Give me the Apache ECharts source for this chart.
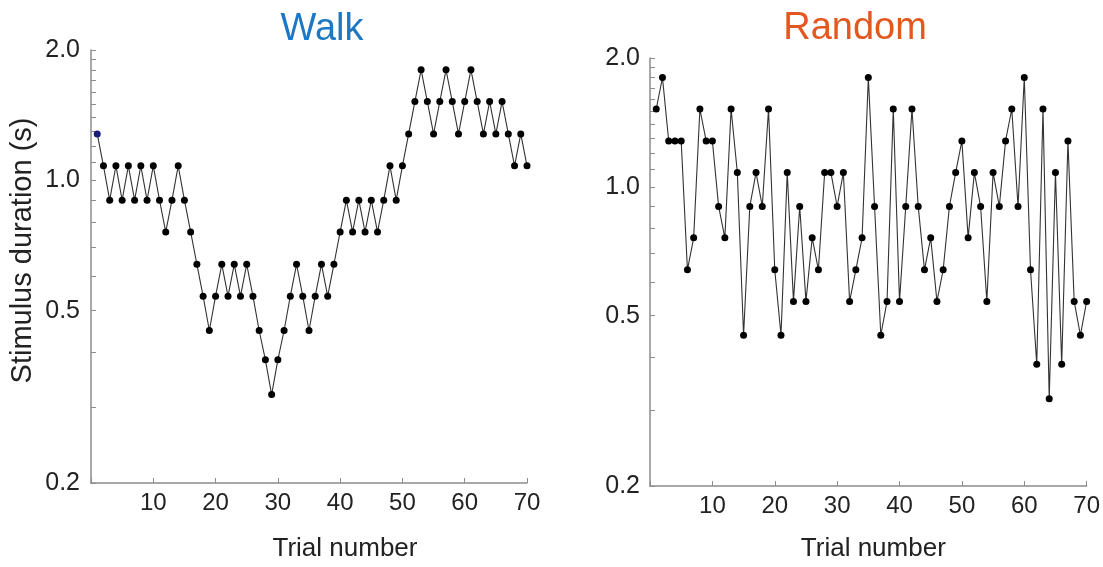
<!DOCTYPE html>
<html>
<head>
<meta charset="utf-8">
<script src="https://cdn.jsdelivr.net/npm/echarts@6/dist/echarts.min.js"></script>
<style>
html, body { margin: 0; background: #fff; }
#main { width: 1103px; height: 567px; }
</style>
</head>
<body>
<div id="main"></div>
<script>
// stimulus duration (s) per trial, trials 1..70
var walkDur = [1.28, 1.08, 0.90, 1.08, 0.90, 1.08, 0.90, 1.08, 0.90, 1.08,
    0.90, 0.76, 0.90, 1.08, 0.90, 0.76, 0.64, 0.54, 0.45, 0.54,
    0.64, 0.54, 0.64, 0.54, 0.64, 0.54, 0.45, 0.385, 0.32, 0.385,
    0.45, 0.54, 0.64, 0.54, 0.45, 0.54, 0.64, 0.54, 0.64, 0.76,
    0.90, 0.76, 0.90, 0.76, 0.90, 0.76, 0.90, 1.08, 0.90, 1.08,
    1.28, 1.52, 1.80, 1.52, 1.28, 1.52, 1.80, 1.52, 1.28, 1.52,
    1.80, 1.52, 1.28, 1.52, 1.28, 1.52, 1.28, 1.08, 1.28, 1.08];
var randomDur = [1.52, 1.80, 1.28, 1.28, 1.28, 0.64, 0.76, 1.52, 1.28, 1.28,
    0.90, 0.76, 1.52, 1.08, 0.45, 0.90, 1.08, 0.90, 1.52, 0.64,
    0.45, 1.08, 0.54, 0.90, 0.54, 0.76, 0.64, 1.08, 1.08, 0.90,
    1.08, 0.54, 0.64, 0.76, 1.80, 0.90, 0.45, 0.54, 1.52, 0.54,
    0.90, 1.52, 0.90, 0.64, 0.76, 0.54, 0.64, 0.90, 1.08, 1.28,
    0.76, 1.08, 0.90, 0.54, 1.08, 0.90, 1.28, 1.52, 0.90, 1.80,
    0.64, 0.385, 1.52, 0.32, 1.08, 0.385, 1.28, 0.54, 0.45, 0.54];
var yLabelVals = [0.2, 0.5, 1.0, 2.0];
var yTickVals = [0.2, 0.3, 0.4, 0.5, 0.6, 0.7, 0.8, 0.9, 1.0, 1.1, 1.2, 1.3, 1.4, 1.5, 1.6, 1.7, 1.8, 1.9, 2.0];
var titles = ['Walk', 'Random'];
var titleColors = ['#1c78c4', '#e2581f'];

var font = 'Liberation Sans, Arial, sans-serif';
var axisGrey = '#8c8c8c';

function toPoints(arr) {
    return arr.map(function (v, i) { return [i + 1, v]; });
}
var walkData = toPoints(walkDur);
walkData[0] = { value: walkData[0], itemStyle: { color: '#1a1a7a' } };

function xAxisFor(gi, gap, pad) {
    return {
        type: 'value', gridIndex: gi, min: 0, max: 70, interval: 10,
        name: 'Trial number', nameLocation: 'middle', nameGap: gap,
        nameTextStyle: { fontSize: 26, color: '#222', fontFamily: font, padding: pad },
        axisLine: { lineStyle: { color: axisGrey, width: 1.5 } },
        axisTick: { inside: true, length: 5, lineStyle: { color: axisGrey } },
        axisLabel: {
            fontSize: 24, color: '#222', fontFamily: font, margin: 8,
            formatter: function (v) { return v === 0 ? '' : String(v); }
        },
        splitLine: { show: false }
    };
}
function yAxisFor(gi, margin) {
    return {
        type: 'log', logBase: 10, gridIndex: gi, min: 0.2, max: 2,
        axisLine: { show: true, lineStyle: { color: axisGrey, width: 1.5 } },
        axisTick: { show: true, inside: true, length: 5, customValues: yTickVals, lineStyle: { color: axisGrey } },
        axisLabel: {
            customValues: yLabelVals, fontSize: 25, color: '#222', fontFamily: font, margin: margin,
            formatter: function (v) { return Number(v).toFixed(1); }
        },
        splitLine: { show: false }
    };
}
function lineSeries(gi, data) {
    return {
        type: 'line', xAxisIndex: gi, yAxisIndex: gi, data: data,
        symbol: 'circle', symbolSize: 7, showSymbol: true,
        itemStyle: { color: '#000' },
        lineStyle: { color: '#333', width: 1.1 }
    };
}

var myChart = echarts.init(document.getElementById('main'));
var yLeft = yAxisFor(0, 11);
yLeft.name = 'Stimulus duration (s)';
yLeft.nameLocation = 'middle';
yLeft.nameGap = 54;
yLeft.nameTextStyle = { fontSize: 29, color: '#222', fontFamily: font, padding: [0, 0, 0, 32] };

var option = {
    animation: false,
    backgroundColor: '#fff',
    graphic: [
        { type: 'text', x: 322, y: 30, style: { text: titles[0], fill: titleColors[0], fontSize: 38, fontFamily: font, align: 'center', verticalAlign: 'middle' } },
        { type: 'text', x: 855, y: 29, style: { text: titles[1], fill: titleColors[1], fontSize: 38, fontFamily: font, align: 'center', verticalAlign: 'middle' } }
    ],
    grid: [
        { left: 91, top: 50, width: 436, height: 436 },
        { left: 650, top: 58, width: 437, height: 436 }
    ],
    xAxis: [xAxisFor(0, 53, [0, 0, 0, 72]), xAxisFor(1, 50, [0, 0, 0, 10])],
    yAxis: [yLeft, yAxisFor(1, 10)],
    series: [lineSeries(0, walkData), lineSeries(1, toPoints(randomDur))]
};
myChart.setOption(option);
</script>
</body>
</html>
